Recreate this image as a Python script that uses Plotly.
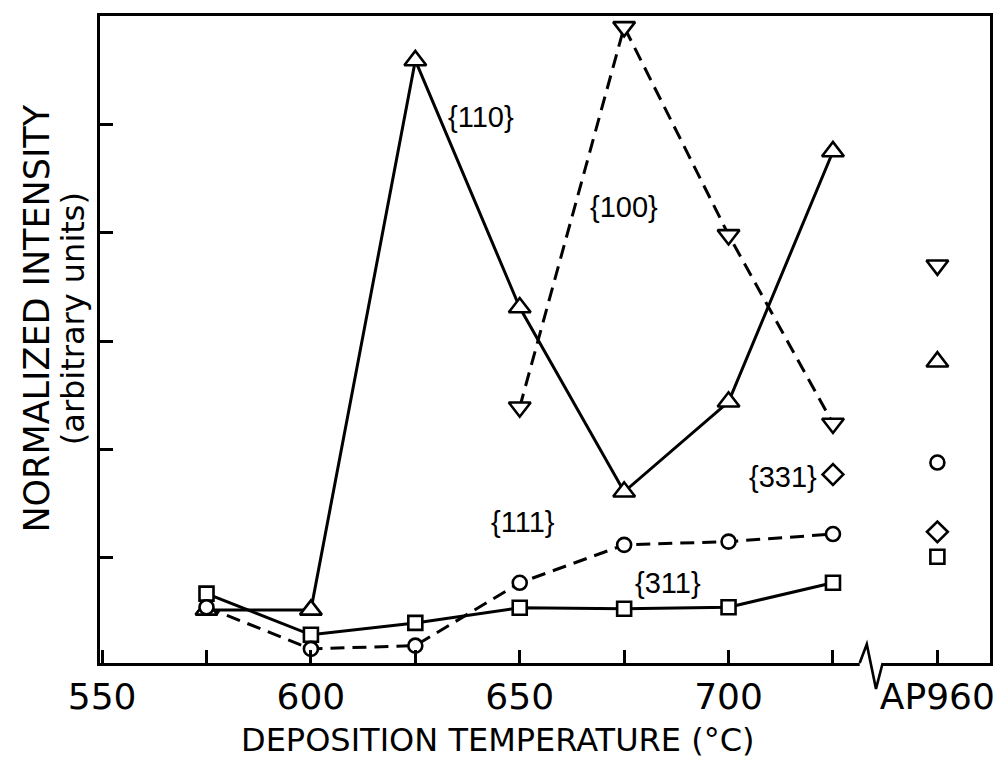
import plotly.graph_objects as go

# ---- data ----
temps = [575, 600, 625, 650, 675, 700, 725]
ap960_x = 750  # position of the AP960 column on the broken axis

i110 = [0.52, 0.52, 5.59, 3.31, 1.61, 2.44, 4.75]
t100 = [650, 675, 700, 725]
i100 = [2.39, 5.90, 3.98, 2.24]
i111 = [0.545, 0.16, 0.19, 0.77, 1.12, 1.15, 1.22]
i311 = [0.67, 0.29, 0.40, 0.54, 0.53, 0.545, 0.77]
t331 = [725]
i331 = [1.77]

ap_100 = 3.70
ap_110 = 2.81
ap_111 = 1.88
ap_331 = 1.24
ap_311 = 1.01

x_tick_vals = [550, 575, 600, 625, 650, 675, 700, 725, 750]
x_tick_text = ["550", "", "600", "", "650", "", "700", "", "AP960"]
y_tick_vals = [1, 2, 3, 4, 5]

labels = ["{110}", "{100}", "{111}", "{311}", "{331}"]
label_x = [640.7, 675.0, 650.7, 685.5, 713.0]
label_y = [5.07, 4.24, 1.33, 0.77, 1.75]

# ---- figure ----
fig = go.Figure()
ink = "black"
LW = 3

def mk(symbol, size):
    return dict(symbol=symbol, size=size, color="white",
                line=dict(color=ink, width=2.6))

TRI, CIR, SQ, DIA = 19, 14, 14, 16

fig.add_trace(go.Scatter(x=temps, y=i110, mode="lines+markers",
                         line=dict(color=ink, width=LW),
                         marker=mk("triangle-up", TRI)))
fig.add_trace(go.Scatter(x=t100, y=i100, mode="lines+markers",
                         line=dict(color=ink, width=LW, dash="14px,8px"),
                         marker=mk("triangle-down", TRI)))
fig.add_trace(go.Scatter(x=temps, y=i311, mode="lines+markers",
                         line=dict(color=ink, width=LW),
                         marker=mk("square", SQ)))
fig.add_trace(go.Scatter(x=temps, y=i111, mode="lines+markers",
                         line=dict(color=ink, width=LW, dash="14px,8px"),
                         marker=mk("circle", CIR)))
fig.add_trace(go.Scatter(x=t331, y=i331, mode="markers",
                         marker=mk("diamond", DIA)))

# AP960 column
fig.add_trace(go.Scatter(x=[ap960_x], y=[ap_100], mode="markers", marker=mk("triangle-down", TRI)))
fig.add_trace(go.Scatter(x=[ap960_x], y=[ap_110], mode="markers", marker=mk("triangle-up", TRI)))
fig.add_trace(go.Scatter(x=[ap960_x], y=[ap_111], mode="markers", marker=mk("circle", CIR)))
fig.add_trace(go.Scatter(x=[ap960_x], y=[ap_331], mode="markers", marker=mk("diamond", DIA)))
fig.add_trace(go.Scatter(x=[ap960_x], y=[ap_311], mode="markers", marker=mk("square", SQ)))

for t, lx, ly in zip(labels, label_x, label_y):
    fig.add_annotation(x=lx, y=ly, text=t, showarrow=False,
                       font=dict(family="Liberation Sans", size=29, color=ink))

# axis titles
fig.add_annotation(xref="paper", yref="paper", x=0.447, y=-0.119,
                   text="DEPOSITION TEMPERATURE (°C)", showarrow=False,
                   xanchor="center", yanchor="middle",
                   font=dict(family="DejaVu Sans", size=32, color=ink))
fig.add_annotation(xref="paper", yref="paper", x=-0.071, y=0.532,
                   text="NORMALIZED INTENSITY", showarrow=False,
                   textangle=-90, xanchor="center", yanchor="middle",
                   font=dict(family="DejaVu Sans", size=35, color=ink))
fig.add_annotation(xref="paper", yref="paper", x=-0.031, y=0.532,
                   text="(arbitrary units)", showarrow=False,
                   textangle=-90, xanchor="center", yanchor="middle",
                   font=dict(family="DejaVu Sans", size=32, color=ink))

# axis break (zigzag) on the bottom axis
fig.add_shape(type="line", xref="x", yref="paper", x0=731.4, x1=736.9, y0=0, y1=0,
              line=dict(color="white", width=6), layer="above")
fig.add_shape(type="path", xref="x", yref="paper",
              path="M 731.4,0 L 733.1,0.029 L 735.3,-0.04 L 736.9,0",
              line=dict(color=ink, width=2.6), layer="above")

fig.update_layout(
    width=1003, height=759,
    margin=dict(l=100, r=8, t=16, b=96),
    plot_bgcolor="white", paper_bgcolor="white",
    showlegend=False,
    font=dict(family="DejaVu Sans", color=ink),
)
fig.update_xaxes(range=[549.5, 762.6], tickvals=x_tick_vals, ticktext=x_tick_text,
                 ticks="inside", ticklen=13, tickwidth=2.5, tickcolor=ink,
                 showline=True, linewidth=3, linecolor=ink, mirror=True,
                 showgrid=False, zeroline=False,
                 tickfont=dict(family="DejaVu Sans", size=36, color=ink))
fig.update_yaxes(range=[0.03, 6.0], tickvals=y_tick_vals, showticklabels=False,
                 ticks="inside", ticklen=13, tickwidth=2.5, tickcolor=ink,
                 showline=True, linewidth=3, linecolor=ink, mirror=True,
                 showgrid=False, zeroline=False)

fig.write_html("out.html")
